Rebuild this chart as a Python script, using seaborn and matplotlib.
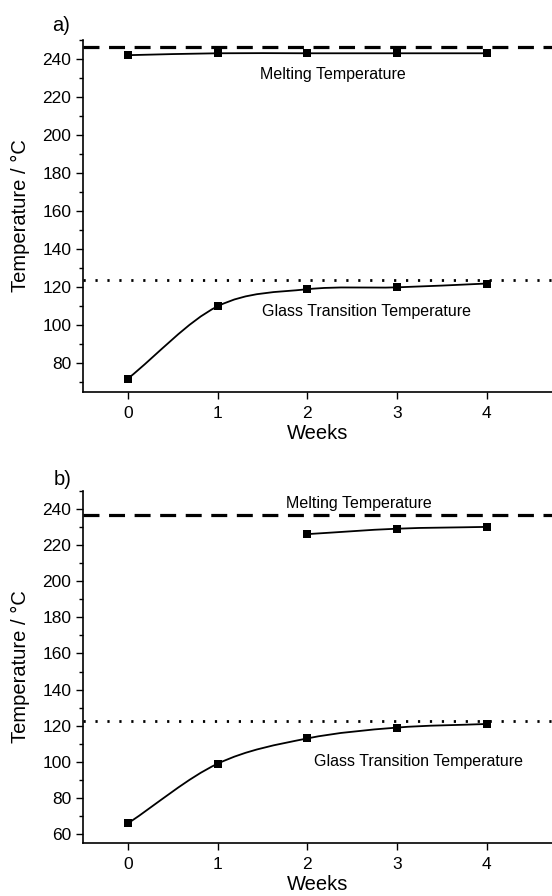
import numpy as np
import pandas as pd
import seaborn as sns
import matplotlib.pyplot as plt
from matplotlib.path import Path
from matplotlib.patches import PathPatch
from matplotlib.ticker import MultipleLocator

# data
weeks = [0, 1, 2, 3, 4]
tm_a = [242, 243, 243, 243, 243]
tg_a = [72, 110, 119, 120, 122]
tm_a_ref = 246.5
tg_a_ref = 124

weeks_tm_b = [2, 3, 4]
tm_b = [226, 229, 230]
tg_b = [66, 99, 113, 119, 121]
tm_b_ref = 236.5
tg_b_ref = 122.5

sns.set_style("ticks")
plt.rcParams['font.family'] = ['Liberation Sans', 'DejaVu Sans']
plt.rcParams['text.color'] = 'black'
plt.rcParams['axes.labelcolor'] = 'black'


def smooth_path(x, y):
    """catmull-rom style bezier through the points"""
    x = np.asarray(x, float)
    y = np.asarray(y, float)
    n = len(x)
    verts = [(x[0], y[0])]
    codes = [Path.MOVETO]
    for i in range(n - 1):
        i0 = max(i - 1, 0)
        i3 = min(i + 2, n - 1)
        m1 = ((x[i + 1] - x[i0]) / (i + 1 - i0), (y[i + 1] - y[i0]) / (i + 1 - i0))
        m2 = ((x[i3] - x[i]) / (i3 - i), (y[i3] - y[i]) / (i3 - i))
        verts += [(x[i] + m1[0] / 3, y[i] + m1[1] / 3),
                  (x[i + 1] - m2[0] / 3, y[i + 1] - m2[1] / 3),
                  (x[i + 1], y[i + 1])]
        codes += [Path.CURVE4] * 3
    return Path(verts, codes)


def draw_series(ax, x, y):
    ax.add_patch(PathPatch(smooth_path(x, y), fill=False, color='black', lw=1.3))
    sns.scatterplot(x=x, y=y, ax=ax, marker='s', color='black', s=36,
                    edgecolor='black', linewidth=0, zorder=3)


fig = plt.figure(figsize=(5.52, 8.96), dpi=100)
ax_a = fig.add_axes([0.1504, 0.5625, 0.8496, 0.3929])
ax_b = fig.add_axes([0.1504, 0.0588, 0.8496, 0.3935])

for ax, ylim in ((ax_a, (65, 250)), (ax_b, (55, 250))):
    ax.set_xlim(-0.5, 4.73)
    ax.set_ylim(*ylim)
    ax.xaxis.set_major_locator(MultipleLocator(1))
    ax.yaxis.set_major_locator(MultipleLocator(20))
    ax.yaxis.set_minor_locator(MultipleLocator(10))
    ax.tick_params(axis='both', which='major', length=5, width=1, labelsize=12.5,
                   direction='out', colors='black')
    ax.tick_params(axis='x', which='major', pad=5)
    ax.tick_params(axis='y', which='minor', length=3, width=1, colors='black')
    ax.set_xlabel('Weeks', fontsize=14.5, labelpad=2)
    ax.set_ylabel('Temperature / \u00b0C', fontsize=14.5, labelpad=9)
    sns.despine(ax=ax)
    for s in ('left', 'bottom'):
        ax.spines[s].set_linewidth(1.2)
        ax.spines[s].set_color('black')

# panel a
ax_a.axhline(tm_a_ref, color='black', lw=2.3, ls=(0, (5, 3)))
ax_a.axhline(tg_a_ref, color='black', lw=2, ls=(0, (0.8, 3.5)))
draw_series(ax_a, weeks, tm_a)
draw_series(ax_a, weeks, tg_a)
ax_a.text(2.29, 231.8, 'Melting Temperature', fontsize=11.5, ha='center', va='center')
ax_a.text(2.66, 107.1, 'Glass Transition Temperature', fontsize=11.5, ha='center', va='center')

# panel b
ax_b.axhline(tm_b_ref, color='black', lw=2.3, ls=(0, (5, 3)))
ax_b.axhline(tg_b_ref, color='black', lw=2, ls=(0, (0.8, 3.5)))
draw_series(ax_b, weeks_tm_b, tm_b)
draw_series(ax_b, weeks, tg_b)
ax_b.text(2.575, 243.2, 'Melting Temperature', fontsize=11.5, ha='center', va='center')
ax_b.text(3.24, 100.5, 'Glass Transition Temperature', fontsize=11.5, ha='center', va='center')

fig.text(0.094, 0.972, 'a)', fontsize=14.5, ha='left', va='center')
fig.text(0.098, 0.4654, 'b)', fontsize=14.5, ha='left', va='center')

fig.savefig('out.png', dpi=100)
